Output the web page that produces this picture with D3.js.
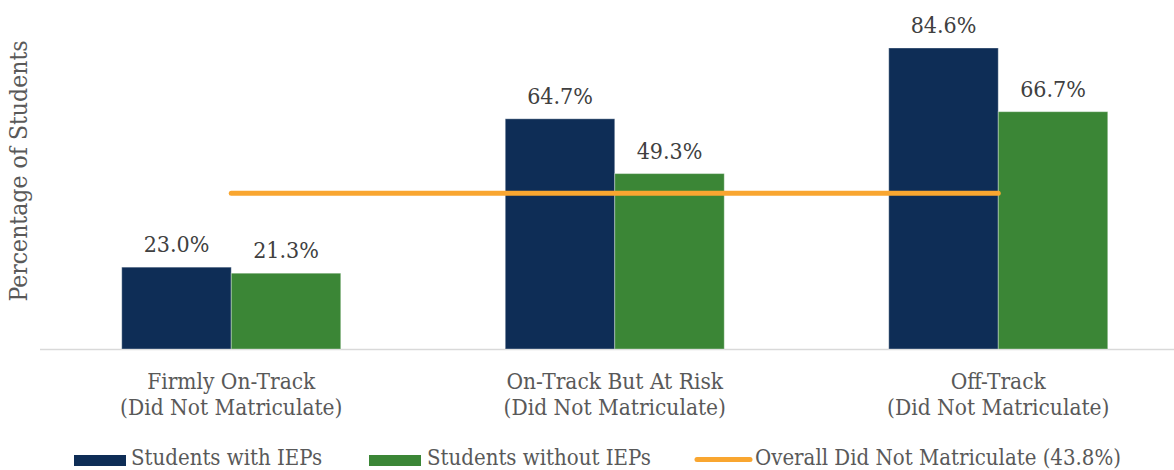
<!DOCTYPE html>
<html><head><meta charset="utf-8">
<script src="https://cdn.jsdelivr.net/npm/d3@7"></script>
<style>body{margin:0;background:#fff}svg{display:block}text{font-family:"DejaVu Serif Condensed","DejaVu Serif",serif}</style>
</head><body><svg id="c" width="1174" height="470"></svg>
<script>
const categories = [["Firmly On-Track","(Did Not Matriculate)"],["On-Track But At Risk","(Did Not Matriculate)"],["Off-Track","(Did Not Matriculate)"]];
const seriesNames = ["Students with IEPs","Students without IEPs"];
const withIEP = [23.0, 64.7, 84.6];
const withoutIEP = [21.3, 49.3, 66.7];
const overall = 43.8;
const overallLabel = "Overall Did Not Matriculate (43.8%)";
const yLabel = "Percentage of Students";
const colors = ["#0E2D56","#3B8636"];
const lineColor = "#F9A630";

const svg = d3.select("#c");
const base = 349;
const x = d3.scaleBand().domain(d3.range(3)).range([39.5, 1190]).paddingInner(0).paddingOuter(0);
const y = d3.scaleLinear().domain([0, 84.6]).range([base, 48]);
const bw = 109.5;

svg.append("line").attr("x1",40).attr("x2",1174).attr("y1",base+0.5).attr("y2",base+0.5).attr("stroke","#d9d9d9").attr("stroke-width",1.5);

const series = [withIEP, withoutIEP];
series.forEach((vals, s) => {
  const g = svg.append("g");
  vals.forEach((v, i) => {
    const cx = x(i) + x.bandwidth()/2;
    const x0 = s === 0 ? cx - bw : cx;
    g.append("rect").attr("x", x0).attr("y", y(v)).attr("width", bw).attr("height", base - y(v))
      .attr("fill", colors[s]).attr("stroke","#ffffff").attr("stroke-opacity",0.35).attr("stroke-width",1);
    g.append("text").attr("x", x0 + bw/2).attr("y", y(v) - 15).attr("text-anchor","middle")
      .attr("font-size", 23).attr("fill","#404040").text(v.toFixed(1) + "%");
  });
});

svg.append("line").attr("x1", x(0)+x.bandwidth()/2).attr("x2", x(2)+x.bandwidth()/2)
  .attr("y1", y(overall)).attr("y2", y(overall)).attr("stroke", lineColor).attr("stroke-width", 5).attr("stroke-linecap","round");

categories.forEach((c, i) => {
  const t = svg.append("text").attr("x", x(i)+x.bandwidth()/2).attr("y", 389).attr("text-anchor","middle").attr("font-size",22.5).attr("fill","#595959");
  t.append("tspan").attr("x", x(i)+x.bandwidth()/2).attr("dy",0).text(c[0]);
  t.append("tspan").attr("x", x(i)+x.bandwidth()/2).attr("dy",26).text(c[1]);
});

svg.append("text").attr("transform","translate(27,171) rotate(-90)").attr("text-anchor","middle").attr("font-size",24.5).attr("fill","#595959").text(yLabel);

const lg = svg.append("g");
lg.append("rect").attr("x",74).attr("y",455).attr("width",52).attr("height",11).attr("fill",colors[0]);
lg.append("text").attr("x",131).attr("y",465).attr("font-size",22).attr("fill","#595959").text(seriesNames[0]);
lg.append("rect").attr("x",369).attr("y",455).attr("width",52).attr("height",11).attr("fill",colors[1]);
lg.append("text").attr("x",427).attr("y",465).attr("font-size",22).attr("fill","#595959").text(seriesNames[1]);
lg.append("line").attr("x1",697).attr("x2",750).attr("y1",459.5).attr("y2",459.5).attr("stroke",lineColor).attr("stroke-width",5).attr("stroke-linecap","round");
lg.append("text").attr("x",755).attr("y",465).attr("font-size",22).attr("fill","#595959").text(overallLabel);
</script></body></html>
